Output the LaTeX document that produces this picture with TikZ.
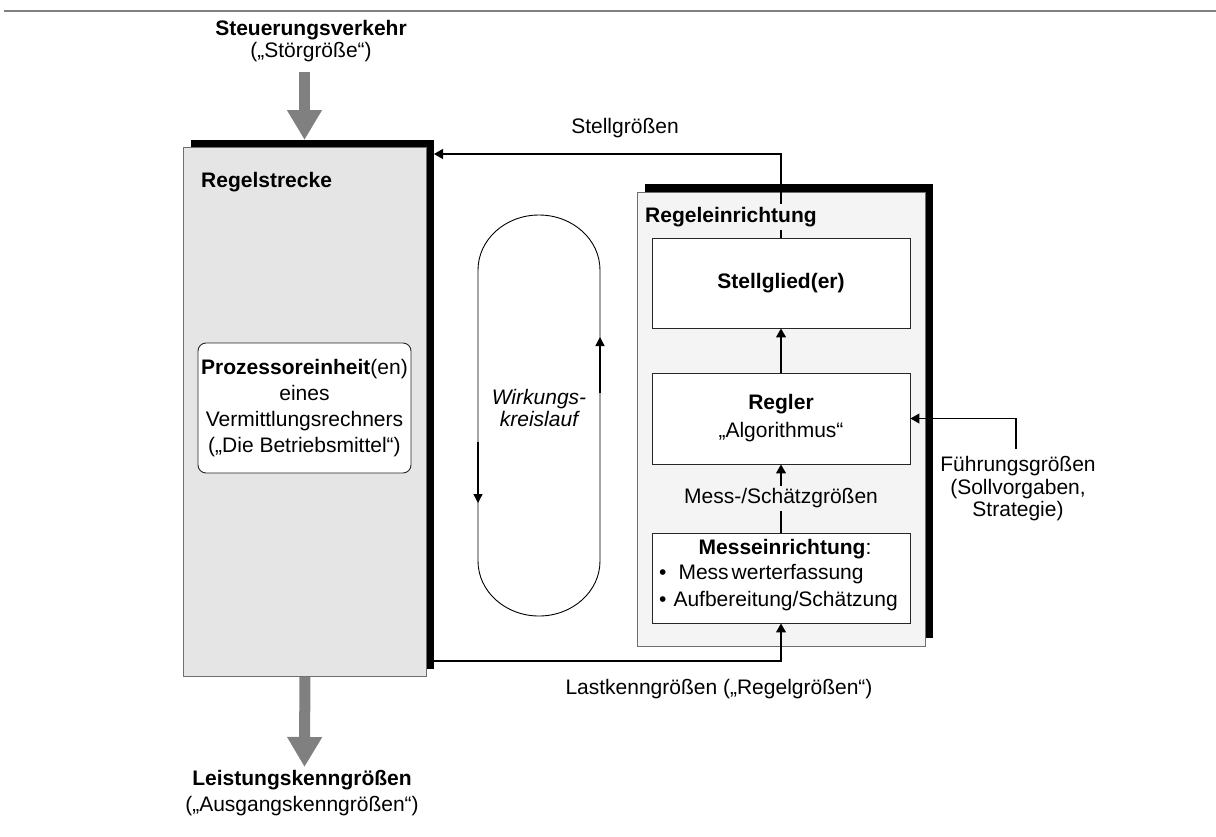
\documentclass[tikz,border=0pt]{standalone}
\usepackage{fontspec}
\setmainfont{Liberation Sans}
\usetikzlibrary{arrows.meta,shadows}
\definecolor{plantfill}{HTML}{E5E5E5}
\definecolor{ctrlfill}{HTML}{F4F4F4}
\definecolor{edgegray}{HTML}{6E6E6E}
\definecolor{flowgray}{HTML}{808080}
\begin{document}
\begin{tikzpicture}[x=1pt,y=1pt,
  every node/.style={font=\fontsize{21}{26}\selectfont, inner sep=0pt},
  plant/.style={draw=edgegray, line width=0.8pt, fill=plantfill,
    general shadow={fill=black, draw=none, shadow xshift=8pt, shadow yshift=7pt}},
  ctrl/.style={draw=edgegray, line width=0.8pt, fill=ctrlfill,
    general shadow={fill=black, draw=none, shadow xshift=8pt, shadow yshift=8pt}},
  blockbox/.style={draw=black!85, line width=0.9pt, fill=white, align=center},
  conn/.style={line width=1.2pt, -{Triangle[length=9pt,width=10pt]}},
  bigflow/.style={draw=flowgray, line width=11pt, -{Triangle[length=30pt,width=33pt,fill=flowgray]}},
  loopdir/.style={line width=1.4pt, -{Triangle[length=9pt,width=9pt]}},
]
\useasboundingbox (0,0) rectangle (1216,-836);

% rule at the top
\draw[draw=flowgray, line width=2.5pt] (4,-11) -- (1216,-11);

% controlled system
\node[plant, minimum width=243pt, minimum height=529pt, anchor=north west] (rs) at (183,-147) {};
\node[anchor=west] (rslab) at (201,-182) {\bfseries Regelstrecke};
\node[blockbox, rounded corners=8pt, minimum width=213pt, minimum height=130pt] (pe) at (304.5,-408)
  {\textbf{Prozessoreinheit}(en)\\eines\\Vermittlungsrechners\\(„Die Betriebsmittel“)};

% disturbance input and output
\node[align=center, font=\fontsize{21}{22}\selectfont] (stoer) at (311,-41.5)
  {\textbf{Steuerungsverkehr}\\(„Störgröße“)};
\coordinate (inA) at (304.5,-72);
\coordinate (inB) at (304.5,-140);
\draw[bigflow] (inA) -- (inB);
\coordinate (outB) at (304.5,-767);
\draw[bigflow] (rs.south) -- (outB);
\node[align=center] (leist) at (302,-793.5)
  {\textbf{Leistungskenngrößen}\\(„Ausgangskenngrößen“)};

% control device
\node[ctrl, minimum width=288pt, minimum height=454pt, anchor=north west] (re) at (637,-192) {};
\node[blockbox, minimum width=258pt, minimum height=90pt] (sg) at (781,-283) {\bfseries Stellglied(er)};
\node[blockbox, minimum width=258pt, minimum height=91pt, font=\fontsize{21}{28}\selectfont] (rg) at (781,-418.5)
  {\textbf{Regler}\\„Algorithmus“};
\node[blockbox, minimum width=258pt, minimum height=90pt] (me) at (781,-578) {};
\node (mehead) at (785,-549) {\textbf{Messeinrichtung}:};
\node[anchor=base west] (me1) at (659,-579) {•\hspace{12pt}Mess\kern3pt werterfassung};
\node[anchor=base west] (me2) at (659,-606) {•\hspace{7pt}Aufbereitung/Schätzung};

% manipulated variables back to the system
\coordinate (sgin) at (434,-154);
\draw[conn] (sg.north) |- (sgin);
\node (sglab) at (625,-128) {Stellgrößen};
\node[anchor=west, fill=ctrlfill, inner sep=3pt] (relab) at (642,-217) {\bfseries Regeleinrichtung};

% internal signal flow
\draw[conn] (rg.north) -- (sg.south);
\draw[conn] (me.north) -- node[fill=ctrlfill, inner ysep=3pt] (mslab) {Mess-/Schätzgrößen} (rg.south);

% measured load variables
\coordinate (lkout) at (433,-661);
\draw[conn] (lkout) -| (me.south);
\node (lklab) at (719,-689) {Lastkenngrößen („Regelgrößen“)};

% reference variables
\node[align=center, font=\fontsize{21}{22.5}\selectfont] (fglab) at (1018,-489)
  {Führungsgrößen\\(Sollvorgaben,\\Strategie)};
\coordinate (fgtop) at (1016,-449);
\draw[conn] (fgtop) |- (rg.east);

% feedback loop
\draw[line width=0.9pt] (478,-270) -- (478,-561)
  arc[start angle=180, end angle=360, x radius=61, y radius=55] -- (600,-270)
  arc[start angle=0, end angle=180, x radius=61, y radius=55] -- cycle;
\draw[loopdir] (600,-393) -- (600,-337);
\draw[loopdir] (478,-442) -- (478,-503);
\node[align=center, font=\itshape\fontsize{21}{22}\selectfont] (wk) at (539,-408) {Wirkungs-\\kreislauf};
\end{tikzpicture}
\end{document}
